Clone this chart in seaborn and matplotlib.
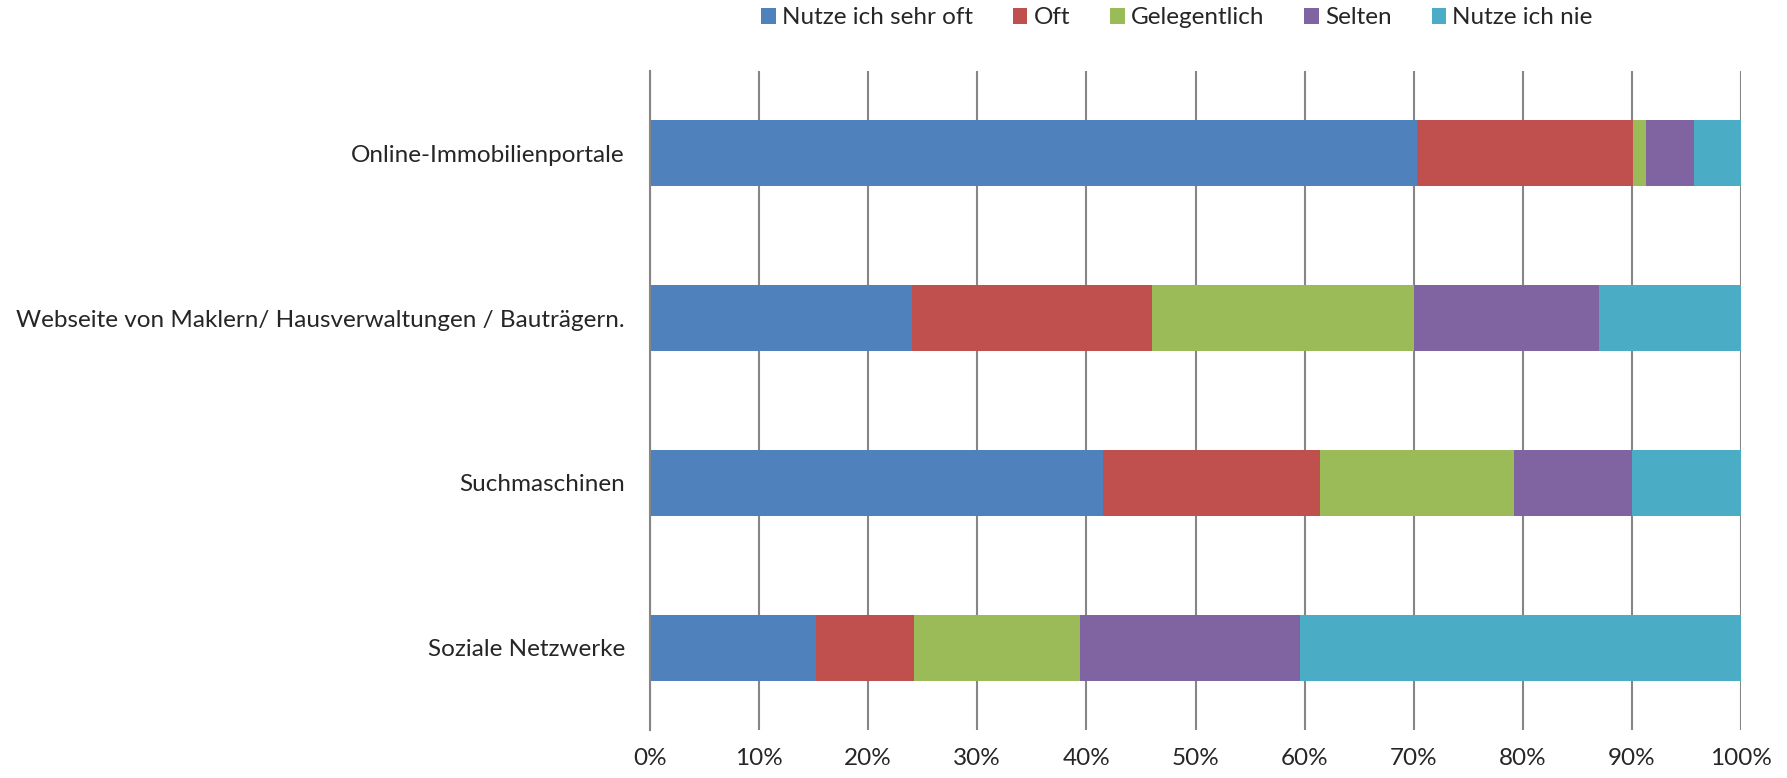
import matplotlib
matplotlib.use("Agg")
import matplotlib.pyplot as plt
import seaborn as sns
import pandas as pd
import numpy as np
from matplotlib.patches import Patch
from matplotlib.ticker import PercentFormatter, FixedLocator

categories = ["Online-Immobilienportale",
              "Webseite von Maklern/ Hausverwaltungen / Bauträgern.",
              "Suchmaschinen",
              "Soziale Netzwerke"]
series_names = ["Nutze ich sehr oft", "Oft", "Gelegentlich", "Selten", "Nutze ich nie"]
sehr_oft = [70.3, 24.0, 41.5, 15.2]
oft = [19.8, 22.0, 19.9, 9.0]
gelegentlich = [1.2, 24.0, 17.8, 15.2]
selten = [4.4, 17.0, 10.8, 20.2]
nie = [4.3, 13.0, 10.0, 40.4]
colors = ["#4F81BD", "#C0504D", "#9BBB59", "#8064A2", "#4BACC6"]
xticks = [0, 10, 20, 30, 40, 50, 60, 70, 80, 90, 100]

sns.set_style("white")
plt.rcParams['font.family'] = ['Lato', 'DejaVu Sans']

values = [sehr_oft, oft, gelegentlich, selten, nie]
cum = np.cumsum(np.array(values), axis=0)

fig = plt.figure(figsize=(17.87, 7.78), dpi=100)
ax = fig.add_axes([650/1787, 1-730/778, (1741-650)/1787, (730-71)/778])

# draw cumulative bars from widest to narrowest so each segment shows
for i in range(len(series_names) - 1, -1, -1):
    df = pd.DataFrame({"cat": categories, "val": cum[i]})
    sns.barplot(data=df, y="cat", x="val", color=colors[i], saturation=1,
                width=0.4, ax=ax, orient="h", order=categories,
                edgecolor="none", linewidth=0)

ax.set_xlim(0, 100)
ax.set_ylim(3.5, -0.5)
ax.set_xlabel("")
ax.set_ylabel("")
ax.set_xticks(xticks)
ax.xaxis.set_major_formatter(PercentFormatter(decimals=0))
ax.grid(axis="x", color="#868686", linewidth=1.5)
ax.set_axisbelow(True)
for s in ["top", "right", "bottom"]:
    ax.spines[s].set_visible(False)
ax.spines["left"].set_color("#868686")
ax.spines["left"].set_linewidth(1.5)

ax.yaxis.set_minor_locator(FixedLocator([-0.5, 0.5, 1.5, 2.5, 3.5]))
ax.tick_params(axis="y", which="major", length=0, pad=18, labelsize=17.5)
ax.tick_params(axis="y", which="minor", length=6, width=1.5, color="#868686", direction="out")
ax.tick_params(axis="x", which="major", length=0, pad=13, labelsize=17.5)

handles = [Patch(facecolor=c, edgecolor="none") for c in colors]
fig.legend(handles, series_names, loc="center", bbox_to_anchor=(1177/1787, 1-18/778),
           ncol=5, frameon=False, fontsize=17.5, handlelength=0.6, handleheight=0.6,
           handletextpad=0.25, columnspacing=1.65)

fig.savefig("out.png", dpi=100)
